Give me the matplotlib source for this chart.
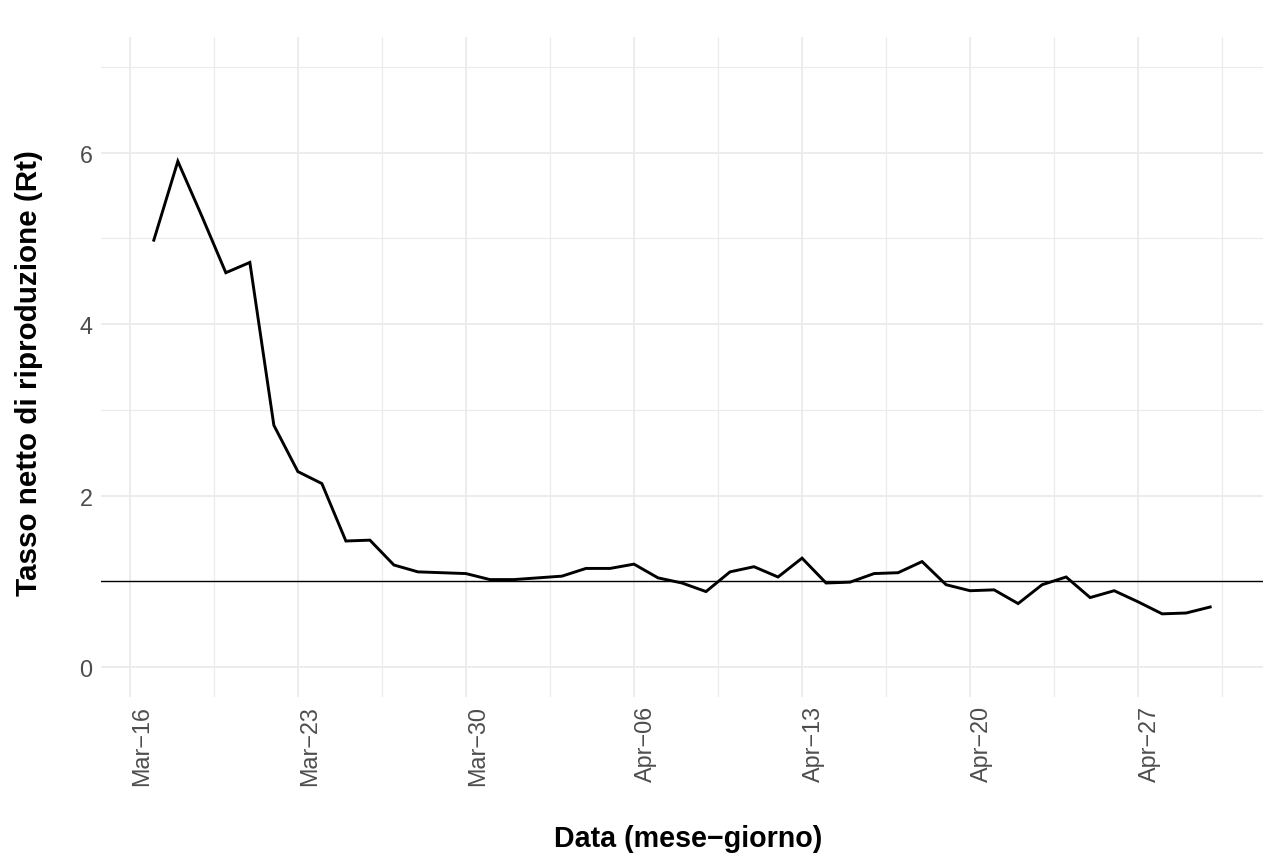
import matplotlib
matplotlib.use('Agg')
import matplotlib.pyplot as plt
import matplotlib.dates as mdates
from matplotlib.ticker import FixedLocator
import pandas as pd
import numpy as np

# ---- data ----
dates = pd.date_range('2020-03-17', '2020-04-30', freq='D')
rt = [4.98, 5.90, 5.26, 4.60, 4.72, 2.82, 2.28, 2.14, 1.47, 1.48,
      1.19, 1.11, 1.10, 1.09, 1.02,
      1.02, 1.04, 1.06, 1.15, 1.15, 1.20, 1.04, 0.98, 0.88, 1.11,
      1.17, 1.05, 1.27, 0.98, 0.99, 1.09, 1.10, 1.23, 0.96, 0.89,
      0.90, 0.74, 0.96, 1.05, 0.81, 0.89, 0.76, 0.62, 0.63, 0.70]
tick_dates = pd.to_datetime(['2020-03-16', '2020-03-23', '2020-03-30', '2020-04-06',
                             '2020-04-13', '2020-04-20', '2020-04-27'])
tick_labels = ['Mar\u221216', 'Mar\u221223', 'Mar\u221230', 'Apr\u221206',
               'Apr\u221213', 'Apr\u221220', 'Apr\u221227']
y_ticks = [0, 2, 4, 6]
y_minor = [1, 3, 5, 7]
threshold = 1.0
xlabel = 'Data (mese\u2212giorno)'
ylabel = 'Tasso netto di riproduzione (Rt)'

plt.rcParams['font.family'] = ['Liberation Sans', 'DejaVu Sans']

W, H = 1280, 862
fig = plt.figure(figsize=(W / 100, H / 100), dpi=100)
fig.patch.set_facecolor('white')
L, R, T, B = 101, 1263, 38, 698
ax = fig.add_axes([L / W, 1 - B / H, (R - L) / W, (B - T) / H])
ax.set_facecolor('white')

grid_col = '#EBEBEB'
xnum = mdates.date2num(dates)
tnum = mdates.date2num(tick_dates)
minor_x = list((tnum[:-1] + tnum[1:]) / 2) + [tnum[-1] + 3.5]

ax.plot(dates, rt, color='black', lw=2.1, solid_joinstyle='miter', zorder=3)
ax.axhline(threshold, color='black', lw=1.0, zorder=2)

span = xnum[-1] - xnum[0]
ax.set_xlim(xnum[0] - 0.05 * span, xnum[-1] + 0.05 * span)
ax.set_ylim(0 - 0.35, 7 + 0.35)

ax.xaxis.set_major_locator(FixedLocator(tnum))
ax.set_xticklabels(tick_labels, rotation=90, fontsize=16.8, color='#4D4D4D', ha='left')
ax.xaxis.set_minor_locator(FixedLocator(minor_x))
ax.set_yticks(y_ticks)
ax.set_yticklabels([str(v) for v in y_ticks], fontsize=16.8, color='#4D4D4D')
ax.yaxis.set_minor_locator(FixedLocator(y_minor))

ax.grid(which='major', color=grid_col, lw=1.3, zorder=0)
ax.grid(which='minor', color=grid_col, lw=0.8, zorder=0)
ax.set_axisbelow(True)
ax.tick_params(which='both', length=0)
ax.tick_params(axis='x', pad=6)
ax.tick_params(axis='y', pad=6)
for s in ax.spines.values():
    s.set_visible(False)

fig.text(688 / W, 1 - 839 / H, xlabel, ha='center', va='center',
         fontsize=20.6, fontweight='bold', color='black')
fig.text(29 / W, 1 - 373 / H, ylabel, ha='center', va='center', rotation=90,
         fontsize=21.3, fontweight='bold', color='black')

fig.savefig('out.png', dpi=100, facecolor='white')
